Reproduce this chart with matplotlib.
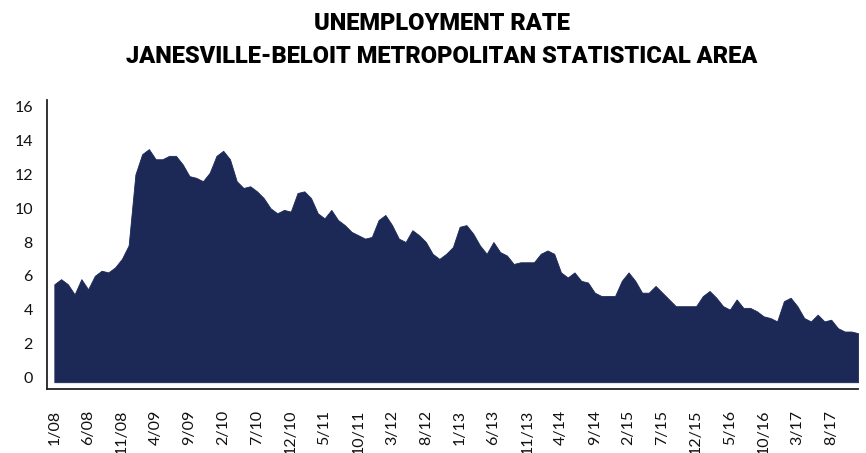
import matplotlib
matplotlib.use("Agg")
import matplotlib.pyplot as plt
import matplotlib.transforms as mtransforms
import numpy as np

# Monthly unemployment rate (%), Jan 2008 - Dec 2017
rate_2008 = [5.8, 6.1, 5.8, 5.2, 6.1, 5.5, 6.3, 6.6, 6.5, 6.8, 7.3, 8.1]
rate_2009 = [12.3, 13.5, 13.8, 13.2, 13.2, 13.4, 13.4, 12.9, 12.2, 12.1, 11.9, 12.4]
rate_2010 = [13.4, 13.7, 13.2, 11.9, 11.5, 11.6, 11.3, 10.9, 10.3, 10.0, 10.2, 10.1]
rate_2011 = [11.2, 11.3, 10.9, 10.0, 9.7, 10.2, 9.6, 9.3, 8.9, 8.7, 8.5, 8.6]
rate_2012 = [9.6, 9.9, 9.3, 8.5, 8.3, 9.0, 8.7, 8.3, 7.6, 7.3, 7.6, 8.0]
rate_2013 = [9.2, 9.3, 8.8, 8.1, 7.6, 8.3, 7.7, 7.5, 7.0, 7.1, 7.1, 7.1]
rate_2014 = [7.6, 7.8, 7.6, 6.5, 6.2, 6.5, 6.0, 5.9, 5.3, 5.1, 5.1, 5.1]
rate_2015 = [6.0, 6.5, 6.0, 5.3, 5.3, 5.7, 5.3, 4.9, 4.5, 4.5, 4.5, 4.5]
rate_2016 = [5.1, 5.4, 5.0, 4.5, 4.3, 4.9, 4.4, 4.4, 4.2, 3.9, 3.8, 3.6]
rate_2017 = [4.8, 5.0, 4.5, 3.8, 3.6, 4.0, 3.6, 3.7, 3.2, 3.0, 3.0, 2.9]

tick_labels = ["1/08", "6/08", "11/08", "4/09", "9/09", "2/10", "7/10", "12/10",
               "5/11", "10/11", "3/12", "8/12", "1/13", "6/13", "11/13", "4/14",
               "9/14", "2/15", "7/15", "12/15", "5/16", "10/16", "3/17", "8/17"]

rates = np.array(rate_2008 + rate_2009 + rate_2010 + rate_2011 + rate_2012
                 + rate_2013 + rate_2014 + rate_2015 + rate_2016 + rate_2017)
months = np.arange(len(rates))

NAVY = "#1c2956"

fig = plt.figure(figsize=(8.66, 4.53), dpi=100)
ax = fig.add_axes([0.054, 0.141, 0.937, 0.638])

ax.fill_between(months, rates, 0, color=NAVY, linewidth=0.6, edgecolor=NAVY)

ax.set_xlim(-1.12, 119.0)
ax.set_ylim(-0.41, 16.7)

ax.set_yticks(np.arange(0, 17, 2))
ax.set_yticklabels([str(v) for v in range(0, 17, 2)],
                   fontfamily="Lato", fontsize=11.5, color="#111111")
ax.set_xticks(months[::5])
ax.set_xticklabels(tick_labels, rotation=90, fontfamily="Lato",
                   fontsize=11.5, color="#111111")
ax.tick_params(axis="y", length=0, pad=10)
ax.tick_params(axis="x", length=0, pad=15)

# nudge the value labels slightly upward
shift = mtransforms.ScaledTranslation(0, 5 / 100, fig.dpi_scale_trans)
for lbl in ax.get_yticklabels():
    lbl.set_transform(lbl.get_transform() + shift)

for side in ("top", "right"):
    ax.spines[side].set_visible(False)
for side in ("left", "bottom"):
    ax.spines[side].set_color("#222222")
    ax.spines[side].set_linewidth(1.3)

fig.text(0.51, 0.948, "UNEMPLOYMENT RATE", ha="center", va="center",
         fontfamily="Roboto", fontweight="heavy", fontsize=17, color="black")
fig.text(0.51, 0.875, "JANESVILLE-BELOIT METROPOLITAN STATISTICAL AREA",
         ha="center", va="center", fontfamily="Roboto", fontweight="heavy",
         fontsize=17, color="black")

fig.savefig("out.png", dpi=100)
